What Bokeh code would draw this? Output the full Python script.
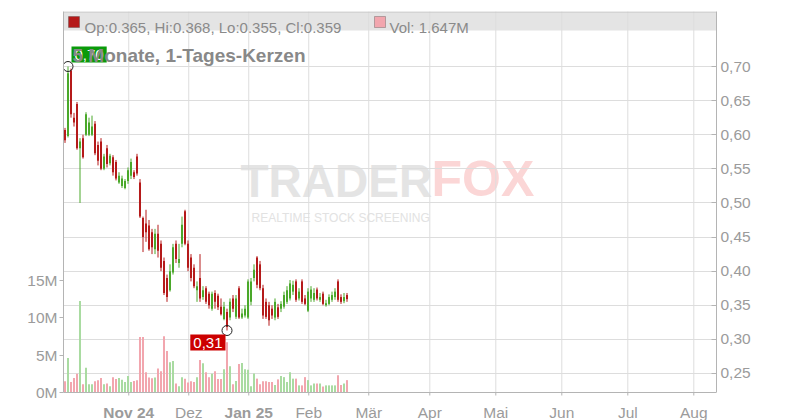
import numpy as np
from bokeh.plotting import figure
from bokeh.models import (Range1d, LinearAxis, FixedTicker, Label, BoxAnnotation, Span,
                          ColumnDataSource, CustomJSTickFormatter)
from bokeh.embed import file_html
from bokeh.resources import INLINE

# ---------------- data ----------------
opens = [0.607, 0.598, 0.694, 0.625, 0.645, 0.58, 0.595, 0.60, 0.60, 0.60,
         0.616, 0.585, 0.59, 0.55, 0.58, 0.558, 0.567, 0.56, 0.53, 0.525,
         0.522, 0.532, 0.54, 0.545, 0.568, 0.53, 0.478, 0.47, 0.467, 0.457,
         0.432, 0.455, 0.44, 0.415, 0.39, 0.372, 0.398, 0.44, 0.412, 0.44,
         0.488, 0.44, 0.42, 0.405, 0.372, 0.39, 0.362, 0.375, 0.367, 0.345,
         0.368, 0.364, 0.348, 0.33, 0.34, 0.332, 0.36, 0.333, 0.375, 0.332,
         0.335, 0.332, 0.355, 0.39, 0.42, 0.41, 0.375, 0.355, 0.35, 0.345,
         0.332, 0.347, 0.345, 0.348, 0.355, 0.36, 0.37, 0.385, 0.36, 0.385,
         0.36, 0.342, 0.36, 0.358, 0.373, 0.358, 0.367, 0.35, 0.352, 0.358,
         0.362, 0.385, 0.362, 0.356, 0.365]
highs = [0.61, 0.70, 0.697, 0.632, 0.648, 0.595, 0.60, 0.633, 0.625, 0.628,
         0.62, 0.59, 0.595, 0.572, 0.585, 0.572, 0.57, 0.563, 0.545, 0.54,
         0.535, 0.552, 0.565, 0.548, 0.572, 0.535, 0.48, 0.49, 0.475, 0.462,
         0.462, 0.468, 0.445, 0.42, 0.395, 0.41, 0.44, 0.445, 0.44, 0.48,
         0.49, 0.445, 0.425, 0.41, 0.385, 0.425, 0.378, 0.378, 0.37, 0.37,
         0.372, 0.367, 0.36, 0.355, 0.345, 0.36, 0.365, 0.365, 0.378, 0.345,
         0.35, 0.388, 0.39, 0.41, 0.422, 0.415, 0.38, 0.36, 0.355, 0.35,
         0.36, 0.352, 0.356, 0.37, 0.378, 0.387, 0.386, 0.388, 0.375, 0.388,
         0.365, 0.375, 0.378, 0.375, 0.376, 0.368, 0.37, 0.358, 0.366, 0.37,
         0.375, 0.388, 0.366, 0.368, 0.368]
lows = [0.588, 0.596, 0.625, 0.612, 0.578, 0.50, 0.565, 0.598, 0.598, 0.598,
        0.57, 0.555, 0.548, 0.548, 0.552, 0.555, 0.54, 0.533, 0.528, 0.522,
        0.52, 0.528, 0.535, 0.535, 0.54, 0.478, 0.428, 0.443, 0.43, 0.425,
        0.425, 0.42, 0.40, 0.365, 0.355, 0.37, 0.395, 0.412, 0.405, 0.435,
        0.438, 0.40, 0.385, 0.375, 0.355, 0.355, 0.358, 0.352, 0.345, 0.342,
        0.345, 0.343, 0.335, 0.328, 0.313, 0.328, 0.34, 0.33, 0.33, 0.33,
        0.332, 0.33, 0.35, 0.385, 0.375, 0.372, 0.33, 0.33, 0.32, 0.33,
        0.328, 0.33, 0.34, 0.345, 0.352, 0.357, 0.365, 0.355, 0.357, 0.352,
        0.35, 0.34, 0.355, 0.355, 0.357, 0.355, 0.35, 0.348, 0.35, 0.355,
        0.358, 0.355, 0.352, 0.353, 0.355]
closes = [0.592, 0.69, 0.63, 0.618, 0.58, 0.59, 0.567, 0.63, 0.618, 0.612,
          0.573, 0.562, 0.55, 0.568, 0.557, 0.569, 0.545, 0.536, 0.54, 0.536,
          0.532, 0.548, 0.56, 0.538, 0.543, 0.48, 0.45, 0.457, 0.432, 0.435,
          0.455, 0.43, 0.405, 0.368, 0.362, 0.40, 0.435, 0.418, 0.418, 0.468,
          0.44, 0.405, 0.39, 0.378, 0.378, 0.36, 0.372, 0.355, 0.35, 0.367,
          0.355, 0.347, 0.337, 0.348, 0.318, 0.355, 0.345, 0.36, 0.332, 0.338,
          0.345, 0.385, 0.385, 0.402, 0.38, 0.375, 0.335, 0.333, 0.328, 0.335,
          0.355, 0.333, 0.352, 0.365, 0.372, 0.382, 0.38, 0.358, 0.37, 0.355,
          0.352, 0.37, 0.373, 0.368, 0.36, 0.362, 0.352, 0.353, 0.362, 0.365,
          0.37, 0.358, 0.355, 0.362, 0.359]
volumes_m = [1.5, 4.6, 1.4, 1.95, 2.5, 12.2, 1.1, 3.3, 1.1, 1.1,
             1.5, 1.65, 1.95, 1.1, 1.2, 0.85, 2.05, 1.8, 1.95, 1.7,
             1.4, 2.2, 1.4, 1.55, 1.65, 7.4, 7.4, 2.7, 2.0, 1.9,
             2.0, 3.2, 2.85, 7.5, 5.55, 4.05, 4.2, 1.2, 0.85, 2.05,
             1.85, 1.35, 1.5, 1.4, 2.05, 4.35, 3.9, 2.7, 2.05, 2.5,
             2.85, 1.8, 1.8, 3.1, 6.7, 3.5, 1.1, 1.55, 3.8, 3.95,
             3.1, 3.05, 0.85, 2.55, 1.85, 1.1, 1.5, 1.5, 1.4, 1.4,
             1.0, 1.75, 2.2, 2.05, 1.4, 2.7, 1.85, 1.85, 0.95, 0.95,
             2.05, 1.65, 0.95, 1.2, 1.2, 1.2, 0.8, 0.95, 0.95, 0.95,
             0.95, 2.3, 1.0, 1.2, 1.647]
month_labels = ["Nov 24", "Dez", "Jan 25", "Feb", "Mär", "Apr", "Mai", "Jun", "Jul", "Aug"]
month_is_year = [True, False, True, False, False, False, False, False, False, False]
month_pos = [21.25, 41.25, 61.25, 81.25, 101.25, 121.6, 143.6, 165.6, 187.6, 209.6]
price_ticks = [0.25, 0.30, 0.35, 0.40, 0.45, 0.50, 0.55, 0.60, 0.65, 0.70]
vol_ticks = [0, 5, 10, 15]
title_text = "5 Monate, 1-Tages-Kerzen"

# ---------------- geometry (canvas px) ----------------
FONT = "Liberation Sans"
W, H = 800, 420
FL, FR, FT = 63, 716, 11        # frame edges; frame runs to canvas bottom
AXIS_Y = 392                    # pixel row of the time axis line
PX_DAY = 3.0
X0 = -0.5
X1 = X0 + (FR - FL) / PX_DAY
PX_PER_PRICE = 682.2
P_REF, Y_REF = 0.70, 66
P_TOP = P_REF + (Y_REF - FT) / PX_PER_PRICE
P_BOT = P_REF - (H - Y_REF) / PX_PER_PRICE
P_AXIS = P_REF - (AXIS_Y - Y_REF) / PX_PER_PRICE
PX_PER_MVOL = 7.5
V_TOP = (AXIS_Y - FT) / PX_PER_MVOL
V_BOT = -(H - AXIS_Y) / PX_PER_MVOL


def px2x(px):
    return X0 + (px - FL) / PX_DAY


def py2p(py):
    return P_REF - (py - Y_REF) / PX_PER_PRICE


RED, GREEN = "#b51a1a", "#4aa82a"
VRED, VGREEN = "#f2a6ae", "#a9dba1"
GRAY_TXT = "#9b9b9b"
AXIS_COL = "#b4b4b4"
GRID_COL = "#dddddd"

p = figure(width=W, height=H, output_backend="svg", toolbar_location=None,
           x_range=Range1d(X0, X1), y_range=Range1d(P_BOT, P_TOP),
           x_axis_location=None, y_axis_location="right",
           min_border_left=FL, min_border_right=W - FR,
           min_border_top=FT, min_border_bottom=0)
p.outline_line_color = None
p.background_fill_color = "white"
p.border_fill_color = "white"
p.extra_y_ranges = {"vol": Range1d(V_BOT, V_TOP)}

# horizontal grid (price ticks)
p.xgrid.visible = False
p.ygrid.ticker = FixedTicker(ticks=price_ticks)
p.ygrid.grid_line_color = GRID_COL

# right price axis
ya = p.yaxis[0]
ya.ticker = FixedTicker(ticks=price_ticks)
ya.formatter = CustomJSTickFormatter(code="return tick.toFixed(2).replace('.', ',')")
ya.bounds = (P_AXIS, P_TOP)
ya.major_tick_in = 5
ya.major_tick_out = 0
ya.minor_tick_in = 0
ya.minor_tick_out = 0
ya.major_label_standoff = 4
ya.major_label_text_font = FONT
ya.major_label_text_font_size = "15.5px"
ya.major_label_text_color = GRAY_TXT
ya.axis_line_color = AXIS_COL
ya.major_tick_line_color = AXIS_COL

# left volume axis
va = LinearAxis(y_range_name="vol", ticker=FixedTicker(ticks=vol_ticks),
                formatter=CustomJSTickFormatter(code="return tick.toFixed(0) + 'M'"))
va.bounds = (0, V_TOP)
va.major_tick_out = 4
va.major_tick_in = 0
va.minor_tick_in = 0
va.minor_tick_out = 0
va.major_label_standoff = 2
va.major_label_text_font = FONT
va.major_label_text_font_size = "15.5px"
va.major_label_text_color = GRAY_TXT
va.axis_line_color = AXIS_COL
va.major_tick_line_color = AXIS_COL
p.add_layout(va, "left")

# header band and top border
p.add_layout(BoxAnnotation(left=X0, right=X1, bottom=py2p(30), top=P_TOP,
                           fill_color="#e4e4e4", fill_alpha=1.0,
                           line_color=None, level="image"))
p.add_layout(Span(location=py2p(11.5), dimension="width", line_color="#c4c4c4",
                  line_width=1, level="underlay"))

# watermark
p.add_layout(Label(x=px2x(240), y=py2p(206), text="TRADER", text_font=FONT,
                   text_font_size="46px", text_font_style="bold",
                   text_color="#e4e4e4", level="image"))
p.add_layout(Label(x=px2x(431), y=py2p(206), text="FOX", text_font=FONT,
                   text_font_size="50px", text_font_style="bold",
                   text_color="#fbd6d6", level="image"))
p.add_layout(Label(x=px2x(251), y=py2p(224), text="REALTIME STOCK SCREENING",
                   text_font=FONT, text_font_size="12px",
                   text_color="#e2e2e2", level="image"))

# vertical month grid lines, time axis line and its ticks
p.segment(x0=month_pos, y0=[P_AXIS] * len(month_pos), x1=month_pos,
          y1=[P_TOP] * len(month_pos), line_color=GRID_COL, line_width=1,
          level="underlay")
p.add_layout(Span(location=P_AXIS, dimension="width", line_color=AXIS_COL,
                  line_width=1))
p.segment(x0=month_pos, y0=[P_AXIS] * len(month_pos), x1=month_pos,
          y1=[P_AXIS - 3 / PX_PER_PRICE] * len(month_pos), line_color=AXIS_COL,
          line_width=1)

# data source
o = np.array(opens)
h = np.array(highs)
l = np.array(lows)
c = np.array(closes)
v = np.array(volumes_m)
idx = np.arange(len(o))
up = c >= o
src = ColumnDataSource(dict(
    x=idx, o=o, h=h, l=l, c=c,
    top=np.maximum(o, c), bot=np.minimum(o, c), vol=v,
    col=[GREEN if u else RED for u in up],
    vcol=[VGREEN if u else VRED for u in up],
))

p.vbar(x="x", width=0.67, top="vol", bottom=0, y_range_name="vol",
       fill_color="vcol", line_color=None, source=src)
p.segment(x0="x", y0="h", x1="x", y1="l", line_color="col", line_width=1, source=src)
p.vbar(x="x", width=0.67, top="top", bottom="bot", fill_color="col",
       line_color=None, source=src)

# extremes
imax = int(np.argmax(h))
imin = int(np.argmin(l))
p.scatter([idx[imax], idx[imin]], [h[imax], l[imin]], marker="circle", size=10,
          fill_color=None, line_color="#222222", line_width=1)
p.add_layout(Label(x=idx[imax], y=h[imax], text=f"{h[imax]:.2f}".replace(".", ","),
                   x_offset=3.5, y_offset=4, text_align="left", text_baseline="bottom",
                   text_font=FONT, text_font_size="15px", text_color="white",
                   background_fill_color="#0a9a0a", padding=3))
p.add_layout(Label(x=idx[imin], y=l[imin], text=f"{l[imin]:.2f}".replace(".", ","),
                   x_offset=-1.5, y_offset=-4, text_align="right", text_baseline="top",
                   text_font=FONT, text_font_size="15px", text_color="white",
                   background_fill_color="#cc0000", padding=3))

# header contents
p.add_layout(BoxAnnotation(left=px2x(68), right=px2x(79), bottom=py2p(27), top=py2p(16),
                           fill_color=RED, fill_alpha=1.0, line_color="#333333", line_width=1))
p.add_layout(Label(x=px2x(84), y=py2p(26.7),
                   text=f"Op:{o[-1]:.3f}, Hi:{h[-1]:.3f}, Lo:{l[-1]:.3f}, Cl:{c[-1]:.3f}",
                   text_font=FONT, text_font_size="15px", text_color="#8a8a8a",
                   text_baseline="alphabetic"))
p.add_layout(BoxAnnotation(left=px2x(374), right=px2x(385), bottom=py2p(27), top=py2p(16),
                           fill_color=VRED, fill_alpha=1.0, line_color="#333333", line_width=1))
p.add_layout(Label(x=px2x(389), y=py2p(26.7), text=f"Vol: {v[-1]:.3f}M",
                   text_font=FONT, text_font_size="15px", text_color="#8a8a8a",
                   text_baseline="alphabetic"))

# title
p.add_layout(Label(x=px2x(72), y=py2p(54.5), text=title_text, text_font=FONT,
                   text_font_size="19px", text_font_style="bold", text_color="#888888",
                   text_baseline="alphabetic"))

# month labels under the time axis
for pos, lab, yr in zip(month_pos, month_labels, month_is_year):
    p.add_layout(Label(x=pos, y=py2p(411.7), text=lab, text_font=FONT,
                       text_font_size="15.5px",
                       text_font_style="bold" if yr else "normal",
                       text_color=GRAY_TXT, text_align="center",
                       text_baseline="alphabetic"))

open("out.html", "w").write(file_html(p, INLINE))
